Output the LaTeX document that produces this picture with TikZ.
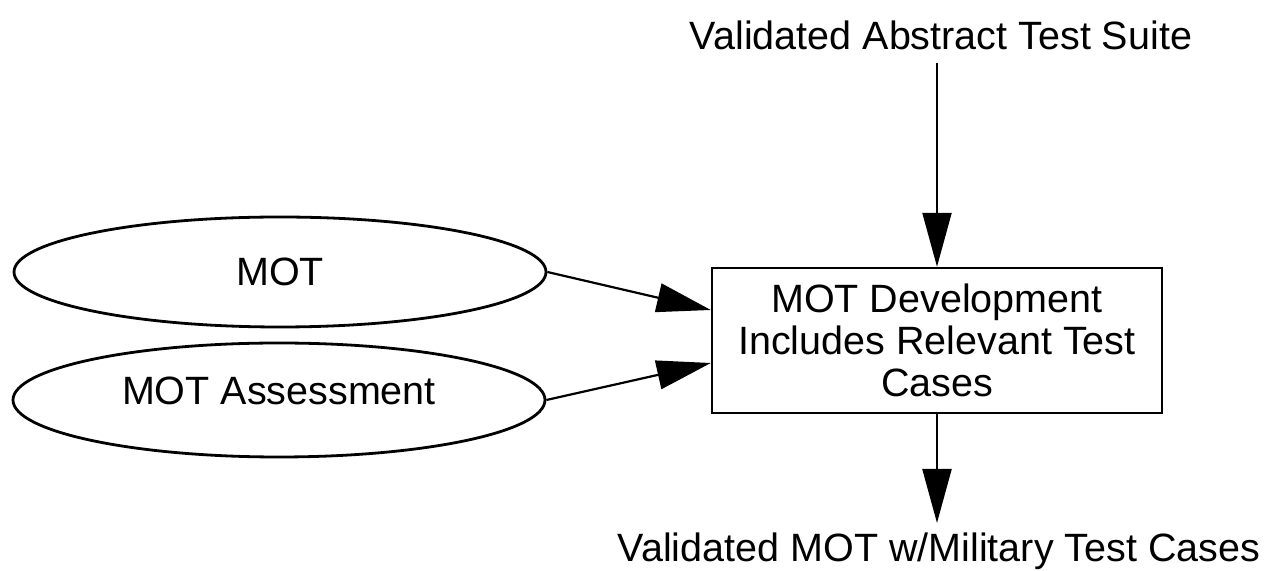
\documentclass[tikz,border=0pt]{standalone}
\usepackage{fontspec}
\setmainfont{Liberation Sans}
\usetikzlibrary{shapes.geometric,arrows.meta,calc}
\begin{document}
\begin{tikzpicture}[x=0.5pt,y=-0.5pt,
  every node/.style={font=\fontsize{19.75}{21}\selectfont},
  oval/.style={ellipse,draw,line width=1.4pt,inner sep=0pt},
  procbox/.style={rectangle,draw,line width=1.2pt,align=center,
    minimum width=225pt,minimum height=72.5pt,inner sep=0pt},
  lbl/.style={inner sep=0pt,anchor=base},
  flow/.style={line width=1.1pt,-{Triangle[length=27pt,width=14.5pt]}}]
  % page area
  \path[fill=white] (0,0) rectangle (1266,569);

  % inputs
  \node[oval,minimum width=266pt,minimum height=55pt] (mot) at (280,272) {MOT};
  \node[oval,minimum width=266pt,minimum height=57pt,text depth=9pt] (assess) at (279,400) {MOT Assessment};

  % process
  \node[procbox] (dev) at (937,340.5)
    {MOT Development\\Includes Relevant Test\\Cases};

  % source and result labels
  \node[lbl] (src) at (941,50) {Validated Abstract Test Suite};
  \node[lbl] (out) at (939,562) {Validated MOT w/Military Test Cases};

  % flows
  \draw[flow] ($(src.base -| dev.north)+(0,13)$) -- (dev.north);
  \draw[flow] (dev.south) -- ($(out.base -| dev.south)+(0,-39)$);
  \draw[flow] (mot.east) -- ($(dev.west)+(0,-30.5)$);
  \draw[flow] (assess.east) -- ($(dev.west)+(0,22.5)$);
\end{tikzpicture}
\end{document}
